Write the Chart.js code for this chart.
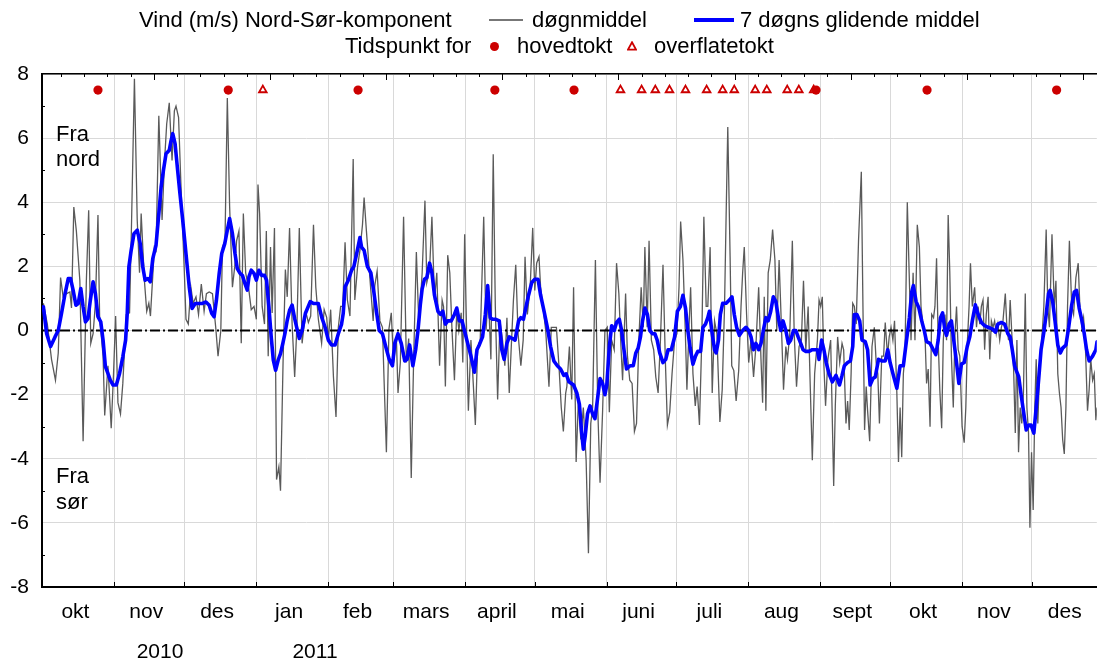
<!DOCTYPE html>
<html lang="no">
<head>
<meta charset="utf-8">
<title>Vind Nord-Sør-komponent</title>
<script src="https://cdn.jsdelivr.net/npm/chart.js@4.4.1/dist/chart.umd.min.js"></script>
<style>
html,body{margin:0;padding:0;background:#fff;}
#wrap{position:relative;width:1103px;height:660px;overflow:hidden;background:#fff;font-family:"Liberation Sans",Arial,Helvetica,sans-serif;color:#000;}
#c{position:absolute;left:0;top:0;}
.t{position:absolute;white-space:nowrap;font-size:22px;line-height:22px;}
.yr{position:absolute;white-space:nowrap;font-size:21px;line-height:21px;transform:translateX(-50%);}
</style>
</head>
<body>
<div id="wrap">
  <canvas id="c" width="1103" height="660"></canvas>
  <div class="t" style="left:139px;top:9px">Vind (m/s) Nord-Sør-komponent</div>
  <div style="position:absolute;left:489px;top:19px;width:34px;height:2px;background:#777"></div>
  <div class="t" style="left:532px;top:9px">døgnmiddel</div>
  <div style="position:absolute;left:694px;top:18px;width:40px;height:4px;background:#0000ff"></div>
  <div class="t" style="left:740px;top:9px">7 døgns glidende middel</div>
  <div class="t" style="left:345px;top:35px">Tidspunkt for</div>
  <div style="position:absolute;left:490px;top:42px;width:9px;height:9px;border-radius:50%;background:#cc0000"></div>
  <div class="t" style="left:517px;top:35px">hovedtokt</div>
  <svg style="position:absolute;left:627px;top:41px" width="10" height="10"><polygon points="5,1.3 9,8.6 1,8.6" fill="#fff" stroke="#cc0000" stroke-width="1.8"/></svg>
  <div class="t" style="left:654px;top:35px">overflatetokt</div>
  <div class="t" style="left:56px;top:121px;line-height:25px">Fra<br>nord</div>
  <div class="t" style="left:56px;top:463px;line-height:26px">Fra<br>sør</div>
  <div class="yr" style="left:160px;top:640px">2010</div>
  <div class="yr" style="left:315px;top:640px">2011</div>
</div>
<script>
// ---------- data ----------
const START_DATE = '2010-10-01';
const monthNames = ['okt','nov','des','jan','feb','mars','april','mai','juni','juli','aug','sept','okt','nov','des'];
const monthStarts = ['2010-10-01','2010-11-01','2010-12-01','2011-01-01','2011-02-01','2011-03-01','2011-04-01',
  '2011-05-01','2011-06-01','2011-07-01','2011-08-01','2011-09-01','2011-10-01','2011-11-01','2011-12-01','2012-01-01'];
const yTicks = [-8,-6,-4,-2,0,2,4,6,8];
const yMinorTicks = [-7,-5,-3,-1,1,3,5,7];

// døgnmiddel: day since 2010-10-01 and value (m/s)
const dailyDay = [
 0.4,2.1,3.9,5.6,6.8,7.8,8.9,10.4,11.8,12.5,
 13.5,14.6,16.1,17.5,18.9,19.9,20.8,21.8,22.8,23.9,
 24.6,26.1,26.8,28.2,29.6,30.6,31.5,32.5,33.6,34.6,
 36.1,37.5,38.2,39.6,40.8,41.8,42.5,43.9,44.9,45.8,
 46.5,48.2,48.9,50.1,51.5,52.5,53.5,54.6,55.8,56.8,
 57.5,58.6,59.6,61.1,61.8,62.8,63.9,64.9,66.1,67.2,
 68.4,69.6,70.6,71.8,73.2,74.6,75.6,76.8,77.5,78.6,
 79.6,80.6,81.8,82.8,83.6,84.6,85.6,86.5,87.5,88.9,
 89.9,91.1,92.1,92.8,93.5,94.6,95.6,96.4,97.2,98.2,
 98.9,99.9,100.8,101.8,102.5,103.6,104.6,105.4,106.4,107.5,
 108.6,109.6,110.6,111.8,
 112.4,113.5,114.5,115.5,116.7,117.7,118.8,120.2,121.3,122.4,
 123.1,124.1,125.3,126.4,127.4,128.4,129.3,130.3,131.3,132.4,
 133.8,134.5,135.7,136.7,137.8,138.5,139.5,140.5,141.4,142.4,
 143.1,144.1,145.3,146.4,147.1,148.1,149.2,150.2,151.2,152.4,
 153.1,154.1,155.5,156.7,157.7,158.8,159.8,161.0,162.1,163.5,
 164.7,165.5,166.7,167.7,168.8,169.8,171.0,172.1,172.7,173.5,
 174.5,175.4,176.3,177.4,178.4,179.3,180.3,181.0,181.8,182.4,
 183.4,184.5,185.5,186.4,187.4,188.5,190.0,191.0,192.0,193.1,
 194.1,195.0,196.0,197.0,198.1,199.1,200.0,201.0,202.0,202.8,
 203.8,204.8,206.0,207.0,207.8,208.8,210.0,211.1,212.0,212.8,
 213.8,214.5,215.5,216.7,218.1,219.1,220.3,221.3,222.4,223.4,
 224.3,225.3,
 225.8,226.9,227.9,228.7,229.8,230.8,231.8,232.9,234.1,235.1,
 236.1,236.9,238.1,239.1,240.1,241.2,242.2,243.2,244.1,245.1,
 246.2,247.2,248.2,249.1,249.8,251.1,251.9,252.9,253.9,254.9,
 255.8,256.8,257.8,258.7,259.4,260.4,261.2,262.2,263.2,264.1,
 265.1,266.1,267.2,268.2,269.1,270.1,271.1,272.2,273.2,274.1,
 274.8,275.8,276.8,277.5,278.4,279.1,280.1,281.1,281.9,282.9,
 283.9,284.8,285.8,286.5,287.5,288.4,289.4,290.4,291.7,292.7,
 293.7,294.4,295.1,296.1,296.8,297.7,298.7,299.8,300.8,301.5,
 302.2,303.2,304.1,305.1,306.2,307.2,308.4,309.4,310.1,310.8,
 311.5,312.5,313.4,314.4,315.4,316.2,317.2,318.4,319.1,320.1,
 320.8,321.8,322.9,323.7,324.7,325.8,326.8,327.7,328.7,329.7,
 330.5,331.5,332.5,333.7,334.4,335.1,335.8,336.5,337.2,338.2,
 339.4,
 340.7,341.4,342.4,343.3,344.3,345.0,346.0,346.7,347.4,348.2,
 348.9,349.6,350.4,351.4,352.6,353.3,354.0,354.7,355.3,356.2,
 357.2,358.2,359.0,359.7,360.4,361.4,362.2,362.9,363.9,364.6,
 365.4,366.2,366.9,367.9,368.6,369.3,370.0,370.7,371.4,372.4,
 373.2,374.0,374.9,375.7,376.7,377.6,378.3,379.3,380.0,380.7,
 381.4,382.2,382.9,383.7,384.3,385.0,385.7,386.4,387.2,387.9,
 388.6,389.3,390.0,390.7,391.4,392.2,392.9,393.6,394.3,395.0,
 396.0,396.9,397.6,398.3,399.0,399.6,400.4,401.4,402.2,402.9,
 403.6,404.3,405.0,405.7,406.4,407.2,407.9,408.6,409.3,410.0,
 410.7,411.4,412.2,412.9,413.6,414.6,415.3,416.0,416.7,417.4,
 418.2,418.9,419.6,420.3,421.0,421.7,422.4,423.2,423.9,424.6,
 425.2,425.9,426.6,427.3,427.9,428.6,429.3,430.3,431.2,432.2,
 432.9,433.6,434.7,435.7,436.4,437.2,437.9,438.6,439.3,440.0,
 440.7,441.4,442.2,443.2,444.0,445.0,446.0,446.7,447.6,448.3,
 449.0,450.0,450.7,451.4,452.2,452.9,453.6,454.1
];
const dailyVal = [
 0.85,0.2,-0.9,-1.55,-0.7,1.65,1.05,1.15,1.2,0.7,
 3.85,3.1,1.55,-3.45,1.55,3.75,-0.4,-0.1,0.85,3.6,
 0.45,-0.8,-2.65,-1.1,-3.05,-1.35,0.45,-2.25,-2.6,-1.65,
 0.5,0.55,2.8,7.85,3.45,1.8,3.65,1.55,0.6,0.85,
 0.45,2.6,2.5,6.7,3.45,5.2,6.45,7.1,5.3,6.85,
 7.0,6.65,4.6,1.8,0.35,0.2,1.35,0.85,1.05,0.5,
 1.45,0.6,1.15,1.2,1.15,0.1,-0.8,0.0,2.6,2.8,
 7.25,3.85,1.35,2.0,2.8,3.1,-0.4,3.65,1.8,1.25,
 0.65,0.75,0.35,4.55,3.65,0.75,0.2,3.1,-0.8,2.6,
 0.55,3.2,-4.65,-4.25,-5.0,-1.0,1.9,1.05,3.2,0.2,
 -1.45,0.2,3.2,-0.4,
 0.0,0.55,0.25,0.45,3.3,1.35,0.35,-0.4,0.65,0.4,
 -0.3,0.65,-1.45,-2.7,0.1,0.75,0.75,2.75,0.95,0.45,
 5.35,0.95,2.0,2.5,3.3,4.15,3.1,2.1,1.25,0.3,
 1.4,1.85,0.3,0.1,-1.55,-3.8,0.05,0.55,-1.0,-0.25,
 -1.95,-1.0,3.55,-1.0,-0.25,-4.6,-1.0,2.45,0.15,1.8,
 4.05,1.5,1.9,3.55,0.95,1.8,-1.1,0.95,0.75,-1.75,
 2.35,1.8,0.1,-1.55,0.65,0.0,0.55,-1.0,3.0,0.75,
 -2.5,-0.3,-1.65,-2.95,-0.5,-0.3,3.55,0.0,1.15,-0.9,
 5.5,0.75,-2.15,0.3,-0.3,-1.1,0.4,-1.95,-0.3,0.95,
 2.05,-0.1,-1.1,-0.3,2.3,0.5,1.35,3.2,1.25,2.1,
 2.3,1.35,0.75,0.0,-1.75,0.1,0.1,0.1,-1.1,-2.4,
 -3.15,-1.95,
 -1.75,-0.5,-2.15,1.35,-4.1,-2.1,-3.4,-2.4,-4.05,-6.95,
 -2.9,-2.4,2.2,-2.4,-4.75,-2.5,0.0,0.1,-2.55,-0.3,
 -0.6,2.1,1.15,-0.5,-1.55,1.15,-0.8,-1.55,-1.65,-3.15,
 -2.9,-0.3,1.35,0.1,2.6,0.1,2.8,-0.3,-0.6,-1.45,
 -1.95,-0.3,2.05,-0.9,-2.95,-2.55,-1.35,-0.3,-0.1,1.35,
 3.4,2.2,0.0,-1.85,0.1,1.35,-1.35,-2.35,-1.75,-2.95,
 -0.3,3.55,0.75,0.75,2.6,-1.95,0.3,-0.1,-2.85,-1.85,
 0.75,3.65,6.35,2.3,-1.1,-1.25,-2.2,-1.25,0.75,1.8,
 2.6,0.5,-1.0,-0.3,-1.45,-0.5,1.35,-0.9,-2.25,1.05,
 -2.5,1.8,2.2,3.15,2.2,0.0,2.2,-0.3,-1.85,-0.5,
 -0.9,-0.1,2.8,-0.1,-1.75,-0.5,-0.3,1.55,-0.6,0.75,
 -1.45,-4.05,-1.35,-0.3,0.95,0.75,1.05,-1.1,-2.35,-0.9,
 -0.3,
 -4.85,-2.35,-0.2,-1.0,-0.4,-0.6,-2.9,-2.2,-3.1,-1.35,
 0.85,0.75,0.2,2.8,4.95,0.75,-3.1,-1.75,-2.5,-3.45,
 -0.5,0.1,-1.0,-1.35,-2.9,-0.8,-0.8,0.25,-0.8,-0.2,
 0.1,-0.3,0.3,-1.95,-4.1,-2.4,-3.95,-1.35,-0.8,4.0,
 1.8,-0.3,1.8,-0.3,3.3,2.6,0.75,0.1,-0.1,-1.65,
 -1.2,-3.0,0.5,0.4,0.75,2.25,-0.3,-1.85,-3.05,-0.3,
 0.5,-0.3,3.6,1.8,-0.8,-2.4,-0.15,0.75,-0.6,-0.8,
 -3.0,-3.5,-2.4,-0.3,0.75,2.1,0.75,1.35,0.1,0.75,
 0.2,0.75,0.95,-0.6,0.5,1.05,-0.9,0.3,0.1,0.3,
 -0.1,0.2,-0.3,0.1,0.3,1.15,0.1,-0.3,0.95,-0.1,
 -1.25,-3.2,-0.3,-3.8,-2.4,-2.9,-1.95,1.15,-2.4,-3.2,
 -6.15,-3.8,-5.6,-2.4,-0.9,-2.9,-1.35,-0.3,0.75,3.15,
 0.75,0.1,3.0,0.75,1.55,-1.35,-1.95,-2.4,-3.4,-3.85,
 -2.4,0.75,2.8,0.75,0.5,1.65,2.1,0.75,0.1,0.4,
 -0.3,-2.5,-1.85,-0.9,-1.55,-1.35,-2.8,-2.4
];

// 7 døgns glidende middel
const avgDay = [
 0.4,1.8,3.5,5.4,6.8,8.2,9.6,11.1,12.1,13.2,
 14.4,15.4,16.5,17.5,18.5,19.6,20.6,21.8,22.8,23.9,
 25.1,26.1,27.1,28.2,29.2,30.4,31.8,33.2,34.6,35.8,
 36.5,37.2,38.2,39.4,40.8,42.1,43.2,44.2,45.4,46.4,
 47.5,48.9,50.1,51.1,52.1,53.2,54.6,55.4,56.1,57.1,
 58.2,59.2,60.4,61.8,63.2,64.4,65.8,67.2,68.6,70.4,
 71.8,72.9,73.9,74.9,76.1,77.2,78.5,79.6,80.6,81.8,
 82.9,83.9,85.1,86.1,87.2,88.2,88.9,89.9,91.1,92.1,
 93.2,94.4,95.6,96.5,97.5,98.5,99.4,100.4,101.5,102.5,
 103.5,104.4,105.4,106.4,107.5,108.6,109.6,110.6,111.8,113.2,
 115.3,116.7,118.8,120.3,121.7,123.1,124.5,126.0,127.4,128.8,
 129.5,130.3,131.7,133.1,134.1,135.3,136.7,137.4,138.5,139.9,
 141.4,142.7,143.8,145.0,146.4,147.8,149.3,150.7,151.7,153.1,
 154.5,156.0,157.0,158.1,159.5,160.7,161.7,162.7,163.5,164.5,
 165.5,166.7,167.7,168.8,170.3,171.4,172.4,173.5,174.5,176.0,
 177.4,178.4,179.5,180.7,181.7,183.1,184.5,186.0,187.1,188.1,
 189.5,190.7,191.7,192.8,193.8,195.2,196.7,197.8,198.8,200.0,
 201.0,202.4,203.5,205.0,206.0,207.1,208.1,209.3,210.7,212.0,
 213.4,214.5,216.0,217.4,218.8,220.2,221.7,223.1,224.5,225.5,
 226.7,228.7,230.1,231.2,232.2,232.9,233.7,234.7,235.8,236.9,
 237.9,238.9,240.1,241.2,242.2,243.0,244.1,245.1,246.2,247.2,
 248.4,249.4,250.4,251.5,253.0,254.4,255.5,256.5,257.5,258.4,
 259.4,260.5,261.5,262.7,263.7,264.7,265.8,267.2,268.4,269.4,
 270.8,272.2,273.4,274.7,275.8,276.9,277.9,278.9,280.1,281.2,
 282.2,283.4,284.4,285.5,286.5,287.2,288.2,289.4,290.1,291.1,
 291.9,292.9,294.4,295.8,296.9,297.9,298.9,300.1,301.5,302.9,
 304.1,305.1,306.2,307.2,308.4,309.4,310.4,311.5,312.5,313.6,
 314.7,315.8,316.9,317.9,318.9,320.1,321.2,322.2,323.4,324.4,
 325.4,326.5,327.5,328.7,330.1,331.5,332.7,333.7,334.4,335.5,
 336.5,337.5,338.7,340.1,341.7,343.2,344.3,345.3,346.7,347.9,
 348.9,349.6,350.7,351.9,352.9,354.3,355.3,356.4,357.6,358.6,
 360.0,361.4,362.9,364.0,365.0,366.4,367.9,369.3,370.7,371.9,
 373.3,374.3,375.0,376.2,377.4,378.6,379.7,380.7,382.2,383.6,
 384.7,385.7,386.7,387.6,388.6,389.3,390.4,391.4,392.4,393.6,
 394.6,395.7,396.9,398.2,399.3,400.4,401.7,402.9,404.3,405.7,
 407.2,409.0,410.4,411.4,412.9,414.3,415.7,416.7,417.6,418.6,
 419.6,420.4,421.4,422.4,423.6,424.7,425.7,426.9,427.9,429.0,
 430.0,431.2,432.2,433.2,433.9,435.0,436.0,437.2,438.3,439.3,
 440.7,441.9,443.2,444.3,445.3,446.4,447.6,448.6,449.6,450.7,
 452.2,453.6,454.1
];
const avgVal = [
 0.74,-0.1,-0.5,-0.2,0.0,0.53,1.1,1.62,1.62,1.26,
 0.79,0.84,1.31,0.74,0.27,0.37,0.94,1.52,1.15,0.43,
 0.27,-0.3,-1.13,-1.34,-1.55,-1.7,-1.7,-1.34,-0.82,-0.3,
 0.53,1.98,2.5,3.02,3.13,2.71,1.98,1.57,1.62,1.52,
 2.24,2.66,3.64,4.48,5.0,5.51,5.62,5.93,6.14,5.83,
 5.0,4.27,3.44,2.4,1.36,0.69,0.84,0.84,0.84,0.89,
 0.79,0.53,0.43,0.94,1.78,2.4,2.71,3.13,3.49,3.02,
 2.4,1.93,1.78,1.72,1.46,1.26,1.67,1.88,1.78,1.57,
 1.88,1.72,1.72,1.57,0.74,-0.2,-0.92,-1.24,-0.92,-0.72,
 -0.4,-0.1,0.32,0.63,0.79,0.37,0.06,-0.25,0.0,0.53,
 0.9,0.84,0.84,0.4,0.1,-0.3,-0.45,-0.45,-0.1,0.2,
 0.53,1.36,1.57,1.88,2.0,2.4,2.9,2.6,2.5,2.0,
 1.8,1.2,0.6,0.0,-0.1,-0.5,-0.9,-1.1,-0.4,-0.1,
 -0.4,-0.95,-0.9,-0.45,-1.1,-0.6,0.0,0.8,1.3,1.6,
 1.65,2.1,1.8,1.1,0.6,0.5,0.6,0.2,0.3,0.3,
 0.5,0.7,0.3,0.3,0.0,-0.4,-0.8,-1.3,-0.6,-0.45,
 -0.2,0.5,1.4,0.4,0.35,0.35,0.3,-0.6,-0.9,-0.4,
 -0.2,-0.25,-0.3,0.3,0.4,0.35,0.7,1.1,1.5,1.6,
 1.6,1.1,0.6,0.1,-0.5,-0.95,-1.1,-1.2,-1.4,-1.35,
 -1.6,-1.7,-1.95,-2.3,-3.2,-3.7,-3.3,-2.6,-2.35,-2.6,
 -2.75,-2.2,-1.5,-1.65,-2.0,-1.7,-0.5,0.15,0.0,0.25,
 0.35,0.0,-0.6,-1.2,-1.1,-1.1,-0.7,-0.55,-0.2,0.3,
 0.7,0.5,0.0,-0.1,-0.1,-0.3,-0.7,-1.0,-0.9,-0.6,
 -0.6,-0.2,0.6,0.75,1.1,0.7,0.0,-0.55,-1.05,-0.8,
 -0.65,-0.65,0.1,0.2,0.4,0.6,0.0,-0.6,-0.7,-0.3,
 0.5,0.85,0.85,0.95,1.05,0.5,0.1,-0.15,0.0,0.1,
 0.0,-0.2,-0.6,-0.4,-0.6,-0.4,0.0,0.4,0.3,0.6,
 1.05,0.9,0.4,0.0,0.3,0.0,-0.4,-0.3,0.0,0.0,
 -0.2,-0.4,-0.6,-0.65,-0.65,-0.6,-0.6,-0.6,-0.9,-0.3,
 -0.6,-1.0,-1.35,-1.6,-1.4,-1.7,-1.4,-1.1,-1.0,-0.95,
 -0.5,0.5,0.5,0.3,-0.3,-0.35,-0.6,-1.7,-1.5,-1.45,
 -0.9,-0.95,-0.95,-0.6,-1.0,-1.4,-1.8,-1.1,-1.1,-0.4,
 0.4,1.2,1.4,0.9,0.7,0.3,0.0,-0.35,-0.4,-0.6,
 -0.75,-0.3,0.4,0.55,0.0,-0.15,0.2,0.3,-0.3,-1.0,
 -1.65,-1.05,-1.0,-0.5,-0.2,0.3,0.8,0.5,0.25,0.15,
 0.1,0.05,-0.05,0.2,0.25,0.2,-0.1,-0.2,-0.6,-1.1,
 -1.3,-1.45,-2.0,-2.5,-3.1,-2.95,-2.95,-3.2,-2.4,-1.5,
 -0.6,-0.05,0.5,1.15,1.25,0.9,0.3,-0.45,-0.7,-0.55,
 -0.45,0.1,0.8,1.2,1.25,0.7,0.3,-0.1,-0.6,-0.95,
 -0.8,-0.6,-0.35
];

// Tidspunkt for tokt (day since 2010-10-01)
const mainCruiseDay = [23.9, 80.0, 135.9, 194.8, 228.9, 333.1, 380.9, 436.7];
const surfaceCruiseDay = [94.9, 248.9, 258.0, 263.9, 270.0, 276.9, 286.0, 292.9, 297.9, 306.9, 311.9, 320.7, 325.7, 332.1];
const cruiseLevel = 7.5;

// ---------- derived ----------
const X_MIN = -0.2, X_MAX = 454.0;
const t0 = Date.parse(START_DATE + 'T00:00:00Z');
const dayOf = s => (Date.parse(s + 'T00:00:00Z') - t0) / 86400000;
const monthBoundaryDays = monthStarts.map(dayOf);
const monthLabelDays = monthNames.map((_, i) => (monthBoundaryDays[i] + monthBoundaryDays[i + 1]) / 2 - 1.3);
const gridDays = monthBoundaryDays.filter(d => d >= X_MIN && d <= X_MAX);
const topTickDays = [];
for (let d = 8; d <= X_MAX; d += 10) topTickDays.push(d);

const pairs = (xs, ys) => xs.map((x, i) => ({ x, y: ys[i] }));

const innerTicks = {
  id: 'innerTicks',
  afterDraw(chart) {
    const { ctx, chartArea: a, scales } = chart;
    const xs = scales.x, ys = scales.y;
    ctx.save();
    ctx.strokeStyle = '#000';
    ctx.lineWidth = 1;
    ctx.beginPath();
    topTickDays.forEach(d => {
      const px = Math.round(xs.getPixelForValue(d)) + 0.5;
      const len = ((d - 48) % 50 === 0) ? 6 : 3;
      ctx.moveTo(px, a.top); ctx.lineTo(px, a.top + len);
    });
    gridDays.forEach(d => {
      const px = Math.round(xs.getPixelForValue(d)) + 0.5;
      ctx.moveTo(px, a.bottom); ctx.lineTo(px, a.bottom - 5);
    });
    yMinorTicks.forEach(v => {
      const py = Math.round(ys.getPixelForValue(v)) + 0.5;
      ctx.moveTo(a.left - 1, py); ctx.lineTo(a.left + 3, py);
    });
    ctx.stroke();
    ctx.restore();
  }
};

Chart.defaults.font.family = '"Liberation Sans", Arial, Helvetica, sans-serif';
Chart.defaults.font.size = 21;
Chart.defaults.color = '#000';

new Chart(document.getElementById('c'), {
  type: 'line',
  data: {
    datasets: [
      { label: 'døgnmiddel', data: pairs(dailyDay, dailyVal), borderColor: '#5a5a5a', borderWidth: 1.3,
        pointRadius: 0, tension: 0, order: 4 },
      { label: 'null', data: [{ x: X_MIN, y: 0 }, { x: X_MAX, y: 0 }], borderColor: '#000', borderWidth: 2,
        borderDash: [10, 3, 2, 3], pointRadius: 0, order: 3 },
      { label: '7 døgns glidende middel', data: pairs(avgDay, avgVal), borderColor: '#0000ff', borderWidth: 3.6,
        pointRadius: 0, tension: 0, borderJoinStyle: 'round', borderCapStyle: 'round', order: 2 },
      { label: 'overflatetokt', data: surfaceCruiseDay.map(x => ({ x, y: cruiseLevel })), showLine: false,
        pointStyle: 'triangle', pointRadius: 4.4, pointBackgroundColor: '#fff', pointBorderColor: '#cc0000',
        pointBorderWidth: 1.8, order: 1 },
      { label: 'hovedtokt', data: mainCruiseDay.map(x => ({ x, y: cruiseLevel })), showLine: false,
        pointStyle: 'circle', pointRadius: 4.6, pointBackgroundColor: '#cc0000', pointBorderColor: '#cc0000',
        pointBorderWidth: 0, order: 0 }
    ]
  },
  options: {
    responsive: false,
    animation: false,
    events: [],
    layout: { padding: { top: 74, left: 0, right: 0, bottom: 0 } },
    plugins: { legend: { display: false }, tooltip: { enabled: false } },
    scales: {
      x: {
        type: 'linear', position: 'bottom', min: X_MIN, max: X_MAX,
        afterBuildTicks: s => { s.ticks = monthLabelDays.map(v => ({ value: v })); },
        afterFit: s => { s.height = 73; },
        ticks: { callback: (v, i) => monthNames[i], autoSkip: false, maxRotation: 0, minRotation: 0, padding: 13 },
        grid: { display: false, drawTicks: false },
        border: { display: true, color: '#000', width: 2 }
      },
      xg: {
        type: 'linear', position: 'top', min: X_MIN, max: X_MAX,
        afterBuildTicks: s => { s.ticks = gridDays.map(v => ({ value: v })); },
        afterFit: s => { s.height = 0; },
        ticks: { display: false },
        grid: { display: true, drawTicks: false, color: '#d9d9d9', lineWidth: 1 },
        border: { display: true, color: '#000', width: 1.5 }
      },
      y: {
        type: 'linear', position: 'left', min: -8, max: 8,
        afterBuildTicks: s => { s.ticks = yTicks.map(v => ({ value: v })); },
        afterFit: s => { s.width = 42; },
        ticks: { padding: 13 },
        grid: { drawTicks: false, color: '#d9d9d9', lineWidth: 1 },
        border: { display: true, color: '#000', width: 2 }
      }
    }
  },
  plugins: [innerTicks]
});
</script>
</body>
</html>
